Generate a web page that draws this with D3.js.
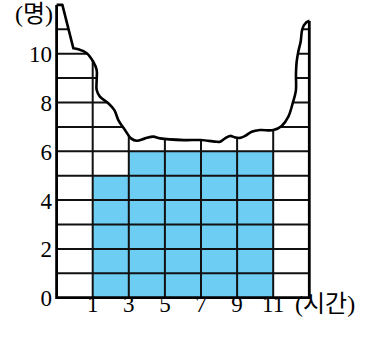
<!DOCTYPE html>
<html><head><meta charset="utf-8">
<script src="https://cdn.jsdelivr.net/npm/d3@7"></script>
<style>body{margin:0;background:#fff}svg{display:block}</style>
</head><body>
<svg id="c" width="368" height="356"></svg>
<script>
// Data
const binStarts = [1, 3, 5, 7, 9];
const binEnds = [3, 5, 7, 9, 11];
const counts = [5, 6, 6, 6, 6];
const xTicks = [1, 3, 5, 7, 9, 11];
const yTicks = [0, 2, 4, 6, 8, 10];
const xUnit = "(시간)";
const yUnit = "(명)";
// torn edge (data units): straight start then wavy curve
const edgeStraight = [[-1, 12], [-0.68, 12], [-0.07, 10.22]];
const edgeWavy = [[-0.07,10.22],[0.2,10.18],[0.67,10.02],[1.03,9.67],[1.22,9.33],[1.22,8.92],[1.22,8.51],[1.4,8.24],[1.86,7.97],[2.2,7.69],[2.42,7.28],[2.79,6.87],[3.12,6.53],[3.44,6.43],[3.9,6.53],[4.36,6.6],[4.73,6.53],[6.06,6.46],[6.98,6.46],[7.89,6.39],[8.05,6.39],[8.33,6.53],[8.61,6.63],[8.88,6.57],[9.16,6.55],[9.44,6.63],[9.81,6.8],[10.27,6.87],[11.01,6.87],[11.47,7.04],[11.84,7.42],[12.08,7.97],[12.26,8.51],[12.26,9.13],[12.3,9.67],[12.39,10.08],[12.52,10.49],[12.6,10.97],[12.71,11.18],[12.97,11.34],[13,11.34]];

const svg = d3.select("#c");
const x = d3.scaleLinear().domain([-1, 13]).range([56.6, 309.3]);
const y = d3.scaleLinear().domain([0, 12]).range([297.7, 4.9]);

const lin = d3.line().x(d => x(d[0])).y(d => y(d[1])).curve(d3.curveLinear);
const wav = d3.line().x(d => x(d[0])).y(d => y(d[1])).curve(d3.curveCatmullRom.alpha(0.5));
const edgePath = lin(edgeStraight) + wav(edgeWavy).replace(/^M/, "L");
const clipPath = edgePath + `L${x(13)},${y(0)}L${x(-1)},${y(0)}Z`;

svg.append("defs").append("clipPath").attr("id", "clip")
  .append("path").attr("d", clipPath);

const g = svg.append("g").attr("clip-path", "url(#clip)");

// bars
g.selectAll("rect.bar").data(counts).join("rect")
  .attr("x", (d, i) => x(binStarts[i]))
  .attr("width", (d, i) => x(binEnds[i]) - x(binStarts[i]))
  .attr("y", d => y(d))
  .attr("height", d => y(0) - y(d))
  .attr("fill", "#6dcdf3");

// grid
const hLines = d3.range(1, 12);
g.selectAll("line.h").data(hLines).join("line")
  .attr("x1", x(-1)).attr("x2", x(13))
  .attr("y1", d => y(d)).attr("y2", d => y(d))
  .attr("stroke", "#111").attr("stroke-width", 2);
g.selectAll("line.v").data(xTicks).join("line")
  .attr("x1", d => x(d)).attr("x2", d => x(d))
  .attr("y1", y(0)).attr("y2", y(12))
  .attr("stroke", "#111").attr("stroke-width", 2);

// edge curve
svg.append("path").attr("d", edgePath).attr("fill", "none")
  .attr("stroke", "#000").attr("stroke-width", 2.6).attr("stroke-linejoin", "round");

// axes frame
svg.append("line").attr("x1", x(-1)).attr("x2", x(-1)).attr("y1", y(0) + 1.3).attr("y2", y(12))
  .attr("stroke", "#000").attr("stroke-width", 2.8);
svg.append("line").attr("x1", x(13)).attr("x2", x(13)).attr("y1", y(0) + 1.3).attr("y2", y(11.34))
  .attr("stroke", "#000").attr("stroke-width", 2.8);
svg.append("line").attr("x1", x(-1)).attr("x2", x(13)).attr("y1", y(0)).attr("y2", y(0))
  .attr("stroke", "#000").attr("stroke-width", 2.8);

const font = "'Liberation Serif','Times New Roman','Noto Sans CJK KR',serif";
svg.selectAll("text.xt").data(xTicks).join("text")
  .attr("x", d => x(d)).attr("y", 312)
  .attr("text-anchor", "middle").attr("font-family", font).attr("font-size", 23)
  .text(d => d);
svg.selectAll("text.yt").data(yTicks).join("text")
  .attr("x", 52).attr("y", d => y(d) + 8.5)
  .attr("text-anchor", "end").attr("font-family", font).attr("font-size", 23)
  .text(d => d);
svg.append("text").attr("x", 295).attr("y", 312).attr("font-family", font).attr("font-size", 24).text(xUnit);
svg.append("text").attr("x", 53).attr("y", 22).attr("text-anchor", "end").attr("font-family", font).attr("font-size", 24).text(yUnit);
</script>
</body></html>
